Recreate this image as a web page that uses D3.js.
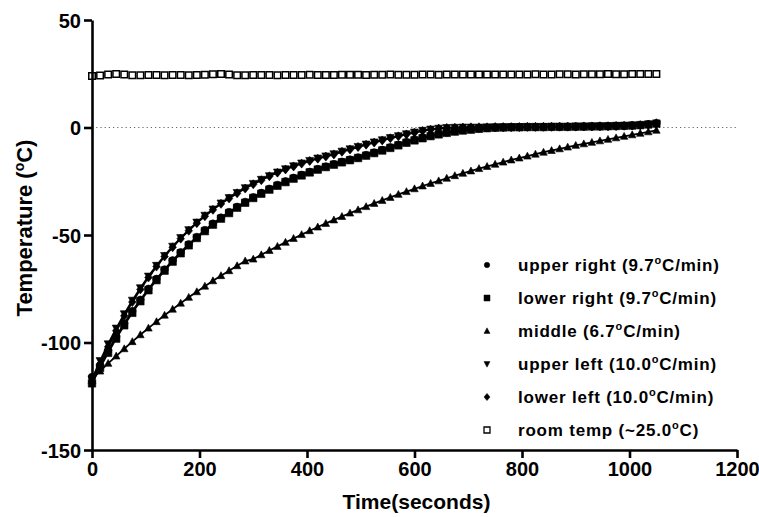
<!DOCTYPE html>
<html>
<head>
<meta charset="utf-8">
<script src="https://cdn.jsdelivr.net/npm/d3@7"></script>
<style>
  html, body { margin: 0; padding: 0; background: #fff; }
  svg { display: block; }
  text { font-family: "Liberation Sans", Arial, Helvetica, sans-serif; font-weight: bold; fill: #000; }
</style>
</head>
<body>
<svg id="chart" width="759" height="517"></svg>
<script>
// Sample times (seconds)
const timeSec = [0, 15, 30, 45, 60, 75, 90, 105, 120, 135,
  150, 165, 180, 195, 210, 225, 240, 255, 270, 285,
  300, 315, 330, 345, 360, 375, 390, 405, 420, 435,
  450, 465, 480, 495, 510, 525, 540, 555, 570, 585,
  600, 615, 630, 645, 660, 675, 690, 705, 720, 735,
  750, 765, 780, 795, 810, 825, 840, 855, 870, 885,
  900, 915, 930, 945, 960, 975, 990, 1005, 1020, 1035,
  1050];

// Temperature readings (°C) per probe position
const upperRight = [-116, -110.6, -103.7, -97.2, -91.1, -85.4, -80.1, -75.0, -70.4, -66.0,
  -61.8, -58.0, -54.3, -50.9, -47.7, -44.7, -41.9, -39.3, -36.9, -34.6,
  -32.4, -30.4, -28.5, -26.7, -25.0, -23.4, -22.0, -20.6, -19.3, -18.1,
  -17.0, -15.9, -14.9, -13.9, -12.8, -11.6, -10.4, -9.2, -8.0, -6.8,
  -5.7, -4.7, -3.8, -3.0, -2.3, -1.7, -1.2, -0.8, -0.5, -0.2,
  0.0, 0.1, 0.1, 0.2, 0.2, 0.2, 0.3, 0.3, 0.3, 0.4,
  0.4, 0.5, 0.5, 0.6, 0.6, 0.7, 0.8, 1.0, 1.2, 1.5,
  2.0];

const lowerRight = [-119, -111.8, -104.8, -98.2, -92.0, -86.2, -80.8, -75.7, -71.0, -66.6,
  -62.4, -58.5, -54.8, -51.4, -48.2, -45.2, -42.4, -39.8, -37.3, -35.0,
  -32.8, -30.8, -28.9, -27.1, -25.4, -23.8, -22.3, -20.9, -19.6, -18.4,
  -17.3, -16.2, -15.2, -14.2, -13.1, -11.9, -10.7, -9.5, -8.3, -7.1,
  -6.0, -5.0, -4.0, -3.2, -2.5, -1.9, -1.4, -1.0, -0.6, -0.3,
  -0.1, 0.0, 0.1, 0.1, 0.2, 0.2, 0.2, 0.3, 0.3, 0.3,
  0.4, 0.4, 0.5, 0.5, 0.6, 0.7, 0.8, 0.9, 1.1, 1.4,
  1.8];

const middle = [-117, -113.3, -109.7, -106.3, -102.9, -99.6, -96.4, -93.3, -90.3, -87.3,
  -84.5, -81.7, -79.0, -76.4, -73.8, -71.3, -68.9, -66.6, -64.3, -62.1,
  -61.2, -59.2, -57.2, -55.3, -53.4, -51.6, -49.8, -48.0, -46.3, -44.6,
  -43.0, -41.4, -39.8, -38.3, -36.8, -35.3, -33.9, -32.5, -31.1, -29.8,
  -28.5, -27.2, -26.0, -24.8, -23.6, -22.4, -21.3, -20.2, -19.1, -18.1,
  -17.1, -16.1, -15.1, -14.2, -13.3, -12.4, -11.5, -10.7, -9.9, -9.1,
  -8.3, -7.6, -6.9, -6.2, -5.5, -4.8, -4.1, -3.4, -2.7, -2.0,
  -1.3];

const upperLeft = [-117, -108.5, -100.7, -93.4, -86.7, -80.4, -74.6, -69.2, -64.2, -59.6,
  -55.3, -51.3, -47.6, -44.1, -40.9, -38.0, -35.2, -32.7, -30.3, -28.1,
  -26.1, -24.2, -22.5, -20.8, -19.3, -17.9, -16.6, -15.4, -14.3, -13.3,
  -12.3, -11.1, -10.0, -8.9, -7.8, -6.8, -5.8, -4.8, -3.9, -3.0,
  -2.2, -1.4, -0.8, -0.4, -0.1, 0.0, 0.1, 0.1, 0.1, 0.2,
  0.2, 0.2, 0.2, 0.3, 0.3, 0.3, 0.3, 0.4, 0.4, 0.4,
  0.5, 0.5, 0.5, 0.6, 0.6, 0.7, 0.8, 0.9, 1.0, 1.2,
  1.5];

const lowerLeft = [-119, -110.2, -102.0, -94.5, -87.6, -81.2, -75.3, -69.8, -64.7, -60.0,
  -55.7, -51.7, -48.0, -44.5, -41.3, -38.3, -35.5, -33.0, -30.6, -28.4,
  -26.4, -24.5, -22.7, -21.0, -19.5, -18.1, -16.8, -15.6, -14.5, -13.5,
  -12.5, -11.3, -10.2, -9.1, -8.0, -7.0, -6.0, -5.0, -4.1, -3.2,
  -2.4, -1.6, -1.0, -0.5, -0.2, -0.1, 0.0, 0.1, 0.1, 0.1,
  0.2, 0.2, 0.2, 0.2, 0.3, 0.3, 0.3, 0.3, 0.4, 0.4,
  0.4, 0.5, 0.5, 0.6, 0.6, 0.7, 0.8, 0.9, 1.1, 1.4,
  2.0];

const roomTemp = [24.0, 24.2, 24.6, 24.9, 24.6, 24.3, 24.3, 24.4, 24.4, 24.3,
  24.4, 24.4, 24.3, 24.4, 24.5, 24.8, 24.9, 24.6, 24.3, 24.3,
  24.4, 24.4, 24.4, 24.3, 24.4, 24.4, 24.4, 24.5, 24.4, 24.4,
  24.4, 24.5, 24.5, 24.5, 24.4, 24.5, 24.5, 24.6, 24.5, 24.5,
  24.5, 24.6, 24.6, 24.5, 24.6, 24.6, 24.6, 24.7, 24.6, 24.6,
  24.7, 24.7, 24.6, 24.7, 24.7, 24.8, 24.7, 24.7, 24.8, 24.8,
  24.7, 24.8, 24.8, 24.8, 24.9, 24.8, 24.8, 24.9, 24.9, 24.9,
  24.9];

// Legend labels: [text before the degree mark, text after it]
const seriesNames = [
  ["upper right (9.7", "C/min)"],
  ["lower right (9.7", "C/min)"],
  ["middle (6.7", "C/min)"],
  ["upper left (10.0", "C/min)"],
  ["lower left (10.0", "C/min)"],
  ["room temp (~25.0", "C)"]
];
const seriesValues = [upperRight, lowerRight, middle, upperLeft, lowerLeft, roomTemp];
const seriesSymbols = ["circle", "square", "triangleUp", "triangleDown", "diamond", "openSquare"];

const xTicks = [0, 200, 400, 600, 800, 1000, 1200];
const yTicks = [50, 0, -50, -100, -150];

const svg = d3.select("#chart");
const margin = { left: 92, top: 20, right: 22, bottom: 67 };
const W = 759, H = 517;

const x = d3.scaleLinear().domain([0, 1200]).range([margin.left, W - margin.right]);
const y = d3.scaleLinear().domain([-150, 50]).range([H - margin.bottom, margin.top]);

// Marker path builder; s is the nominal width in px
function symbolPath(kind, s) {
  const h = s / 2;
  switch (kind) {
    case "circle":
      return `M${-h},0A${h},${h} 0 1,0 ${h},0A${h},${h} 0 1,0 ${-h},0Z`;
    case "square":
    case "openSquare":
      return `M${-h},${-h}H${h}V${h}H${-h}Z`;
    case "triangleUp":
      return `M0,${-h * 1.05}L${h},${h * 0.8}L${-h},${h * 0.8}Z`;
    case "triangleDown":
      return `M0,${h * 1.05}L${h},${-h * 0.8}L${-h},${-h * 0.8}Z`;
    case "diamond":
      return `M0,${-h * 1.2}L${h},0L0,${h * 1.2}L${-h},0Z`;
  }
}

// Dotted zero reference line
svg.append("line")
  .attr("x1", x(0)).attr("x2", x(1200))
  .attr("y1", y(0)).attr("y2", y(0))
  .attr("stroke", "#666").attr("stroke-width", 1)
  .attr("stroke-dasharray", "1.2,3");

// Series: connecting line plus markers
const line = d3.line().x((d, i) => x(timeSec[i])).y(d => y(d));
const markerSize = { circle: 7.5, square: 7.5, triangleUp: 7.5, triangleDown: 8, diamond: 7.5, openSquare: 6.5 };

seriesValues.forEach((vals, si) => {
  const kind = seriesSymbols[si];
  const g = svg.append("g");
  if (kind !== "openSquare") {
    g.append("path")
      .attr("d", line(vals))
      .attr("fill", "none")
      .attr("stroke", "#000")
      .attr("stroke-width", 1.8);
  }
  g.selectAll("path.m").data(vals).join("path")
    .attr("class", "m")
    .attr("transform", (d, i) => `translate(${x(timeSec[i])},${y(d)})`)
    .attr("d", symbolPath(kind, markerSize[kind]))
    .attr("fill", kind === "openSquare" ? "#fff" : "#000")
    .attr("stroke", "#000")
    .attr("stroke-width", kind === "openSquare" ? 1.5 : 0.6);
});

// Axes
const fmt = d => String(d);
const xAxis = d3.axisBottom(x).tickValues(xTicks).tickFormat(fmt).tickSize(8).tickSizeOuter(0).tickPadding(4);
const yAxis = d3.axisLeft(y).tickValues(yTicks).tickFormat(fmt).tickSize(8).tickSizeOuter(0).tickPadding(3);

const gx = svg.append("g").attr("transform", `translate(0,${y(-150)})`).call(xAxis);
const gy = svg.append("g").attr("transform", `translate(${x(0)},0)`).call(yAxis);

[gx, gy].forEach(g => {
  g.select(".domain").attr("stroke", "#000").attr("stroke-width", 2.6);
  g.selectAll(".tick line").attr("stroke", "#000").attr("stroke-width", 2.6);
  g.selectAll(".tick text")
    .attr("font-family", "'Liberation Sans', Arial, sans-serif")
    .attr("font-weight", "bold")
    .attr("font-size", 20)
    .attr("fill", "#000");
});
gy.selectAll(".tick text").attr("dy", "0.36em");

// Axis titles
svg.append("text")
  .attr("x", (x(0) + x(1200)) / 2 + 2)
  .attr("y", 509)
  .attr("text-anchor", "middle")
  .attr("font-size", 21)
  .text("Time(seconds)");

const yTitle = svg.append("text")
  .attr("transform", `translate(32,${(y(50) + y(-150)) / 2 - 7}) rotate(-90)`)
  .attr("text-anchor", "middle")
  .attr("font-size", 22);
yTitle.append("tspan").text("Temperature (");
yTitle.append("tspan").attr("font-size", 14).attr("dy", -8).text("o");
yTitle.append("tspan").attr("dy", 8).text("C)");

// Legend
const legendSymbolSize = { circle: 5.5, square: 6, triangleUp: 6, triangleDown: 6, diamond: 6, openSquare: 6 };
const legend = svg.append("g");
seriesNames.forEach((nm, i) => {
  const cy = 265 + i * 33;
  const kind = seriesSymbols[i];
  legend.append("path")
    .attr("transform", `translate(487,${cy})`)
    .attr("d", symbolPath(kind, legendSymbolSize[kind]))
    .attr("fill", kind === "openSquare" ? "#fff" : "#000")
    .attr("stroke", "#000")
    .attr("stroke-width", kind === "openSquare" ? 1.3 : 0.5);
  const t = legend.append("text")
    .attr("x", 518)
    .attr("y", cy + 6)
    .attr("font-size", 17)
    .attr("letter-spacing", 0.8);
  t.append("tspan").text(nm[0]);
  t.append("tspan").attr("font-size", 11).attr("dy", -7).text("o");
  t.append("tspan").attr("dy", 7).text(nm[1]);
});
</script>
</body>
</html>
